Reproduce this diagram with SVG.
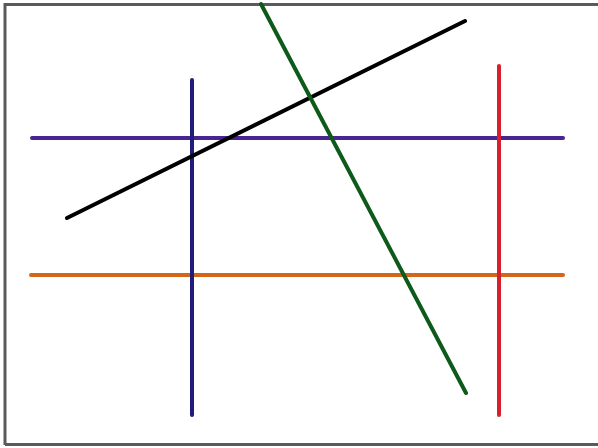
<svg xmlns="http://www.w3.org/2000/svg" width="598" height="448" viewBox="0 0 598 448">
<style>
.ln{stroke-width:4;stroke-linecap:round;fill:none}
</style>
<rect x="0" y="0" width="598" height="448" fill="#ffffff"/>
<g id="frame">
<path d="M5,445 V4.5 H598" fill="none" stroke="#5a5a5a" stroke-width="3"/>
<path d="M5,444.5 H598" fill="none" stroke="#5a5a5a" stroke-width="3"/>
</g>
<g id="connectors">
<line id="purple" class="ln" x1="32" y1="138" x2="563" y2="138" stroke="#4a2490"/>
<line id="orange" class="ln" x1="31" y1="275" x2="563" y2="275" stroke="#d4661c"/>
<line id="blue" class="ln" x1="192" y1="80" x2="192" y2="415" stroke="#1e1e78"/>
<line id="red" class="ln" x1="499" y1="66" x2="499" y2="415" stroke="#d8202c"/>
<line id="black" class="ln" x1="67" y1="218" x2="465" y2="21" stroke="#000000"/>
<line id="green" class="ln" x1="261" y1="4" x2="466" y2="393" stroke="#0d5a1a"/>
</g>
</svg>
